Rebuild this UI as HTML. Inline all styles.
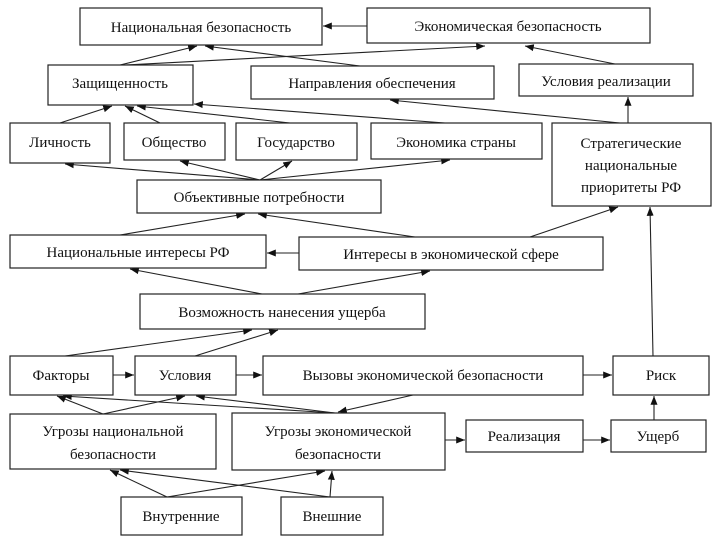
<!DOCTYPE html>
<html><head><meta charset="utf-8"><style>
body{margin:0;background:#fff;width:718px;height:542px;overflow:hidden}
svg{display:block}
text{font-family:"Liberation Serif",serif;font-size:15px;fill:#111}
rect{fill:#fff;stroke:#222;stroke-width:1.2}
line{stroke:#222;stroke-width:1.1}
</style></head><body>
<svg width="718" height="542" viewBox="0 0 718 542">
<defs><marker id="a" viewBox="0 0 10 10" refX="10" refY="5" markerWidth="8" markerHeight="8" orient="auto"><path d="M0,1 L10,5 L0,9 z" fill="#111"/></marker></defs>
<g marker-end="url(#a)">
<line x1="367" y1="26" x2="323" y2="26"/>
<line x1="120" y1="65" x2="197" y2="46"/>
<line x1="125" y1="65" x2="485" y2="46"/>
<line x1="360" y1="66" x2="205" y2="46"/>
<line x1="615" y1="64" x2="525" y2="46"/>
<line x1="628" y1="123" x2="628" y2="97"/>
<line x1="620" y1="123" x2="390" y2="100"/>
<line x1="445" y1="123" x2="194" y2="104"/>
<line x1="60" y1="123" x2="112" y2="106"/>
<line x1="160" y1="123" x2="125" y2="106"/>
<line x1="290" y1="123" x2="137" y2="106"/>
<line x1="260" y1="180" x2="65" y2="164"/>
<line x1="260" y1="180" x2="180" y2="161"/>
<line x1="260" y1="180" x2="292" y2="161"/>
<line x1="260" y1="180" x2="450" y2="160"/>
<line x1="120" y1="235" x2="245" y2="214"/>
<line x1="415" y1="237" x2="258" y2="214"/>
<line x1="530" y1="237" x2="618" y2="207"/>
<line x1="653" y1="356" x2="650" y2="207"/>
<line x1="299" y1="253" x2="267" y2="253"/>
<line x1="262" y1="294" x2="130" y2="269"/>
<line x1="298" y1="294" x2="430" y2="271"/>
<line x1="65" y1="356" x2="252" y2="330"/>
<line x1="195" y1="356" x2="278" y2="330"/>
<line x1="113" y1="375" x2="134" y2="375"/>
<line x1="236" y1="375" x2="262" y2="375"/>
<line x1="583" y1="375" x2="612" y2="375"/>
<line x1="103" y1="414" x2="57" y2="396"/>
<line x1="103" y1="414" x2="185" y2="396"/>
<line x1="335" y1="413" x2="63" y2="396"/>
<line x1="335" y1="413" x2="196" y2="396"/>
<line x1="413" y1="395" x2="338" y2="412"/>
<line x1="445" y1="440" x2="465" y2="440"/>
<line x1="583" y1="440" x2="610" y2="440"/>
<line x1="654" y1="420" x2="654" y2="396"/>
<line x1="167" y1="497" x2="110" y2="470"/>
<line x1="167" y1="497" x2="325" y2="471"/>
<line x1="330" y1="497" x2="120" y2="470"/>
<line x1="330" y1="497" x2="332" y2="471"/>
</g>
<g>
<rect x="80" y="8" width="242" height="37"/><text x="201" y="32" text-anchor="middle">Национальная безопасность</text>
<rect x="367" y="8" width="283" height="35"/><text x="508" y="31" text-anchor="middle">Экономическая безопасность</text>
<rect x="48" y="65" width="145" height="40"/><text x="120" y="88" text-anchor="middle">Защищенность</text>
<rect x="251" y="66" width="243" height="33"/><text x="372" y="88" text-anchor="middle">Направления обеспечения</text>
<rect x="519" y="64" width="174" height="32"/><text x="606" y="86" text-anchor="middle">Условия реализации</text>
<rect x="10" y="123" width="100" height="40"/><text x="60" y="147" text-anchor="middle">Личность</text>
<rect x="124" y="123" width="101" height="37"/><text x="174" y="147" text-anchor="middle">Общество</text>
<rect x="236" y="123" width="121" height="37"/><text x="296" y="147" text-anchor="middle">Государство</text>
<rect x="371" y="123" width="171" height="36"/><text x="456" y="147" text-anchor="middle">Экономика страны</text>
<rect x="552" y="123" width="159" height="83"/><text x="631" y="148" text-anchor="middle">Стратегические</text><text x="631" y="170" text-anchor="middle">национальные</text><text x="631" y="192" text-anchor="middle">приоритеты РФ</text>
<rect x="137" y="180" width="244" height="33"/><text x="259" y="202" text-anchor="middle">Объективные потребности</text>
<rect x="10" y="235" width="256" height="33"/><text x="138" y="257" text-anchor="middle">Национальные интересы РФ</text>
<rect x="299" y="237" width="304" height="33"/><text x="451" y="259" text-anchor="middle">Интересы в экономической сфере</text>
<rect x="140" y="294" width="285" height="35"/><text x="282" y="317" text-anchor="middle">Возможность нанесения ущерба</text>
<rect x="10" y="356" width="103" height="39"/><text x="61" y="380" text-anchor="middle">Факторы</text>
<rect x="135" y="356" width="101" height="39"/><text x="185" y="380" text-anchor="middle">Условия</text>
<rect x="263" y="356" width="320" height="39"/><text x="423" y="380" text-anchor="middle">Вызовы экономической безопасности</text>
<rect x="613" y="356" width="96" height="39"/><text x="661" y="380" text-anchor="middle">Риск</text>
<rect x="10" y="414" width="206" height="55"/><text x="113" y="436" text-anchor="middle">Угрозы национальной</text><text x="113" y="459" text-anchor="middle">безопасности</text>
<rect x="232" y="413" width="213" height="57"/><text x="338" y="436" text-anchor="middle">Угрозы экономической</text><text x="338" y="459" text-anchor="middle">безопасности</text>
<rect x="466" y="420" width="117" height="32"/><text x="524" y="441" text-anchor="middle">Реализация</text>
<rect x="611" y="420" width="95" height="32"/><text x="658" y="441" text-anchor="middle">Ущерб</text>
<rect x="121" y="497" width="121" height="38"/><text x="181" y="521" text-anchor="middle">Внутренние</text>
<rect x="281" y="497" width="102" height="38"/><text x="332" y="521" text-anchor="middle">Внешние</text>
</g>
</svg>
</body></html>
